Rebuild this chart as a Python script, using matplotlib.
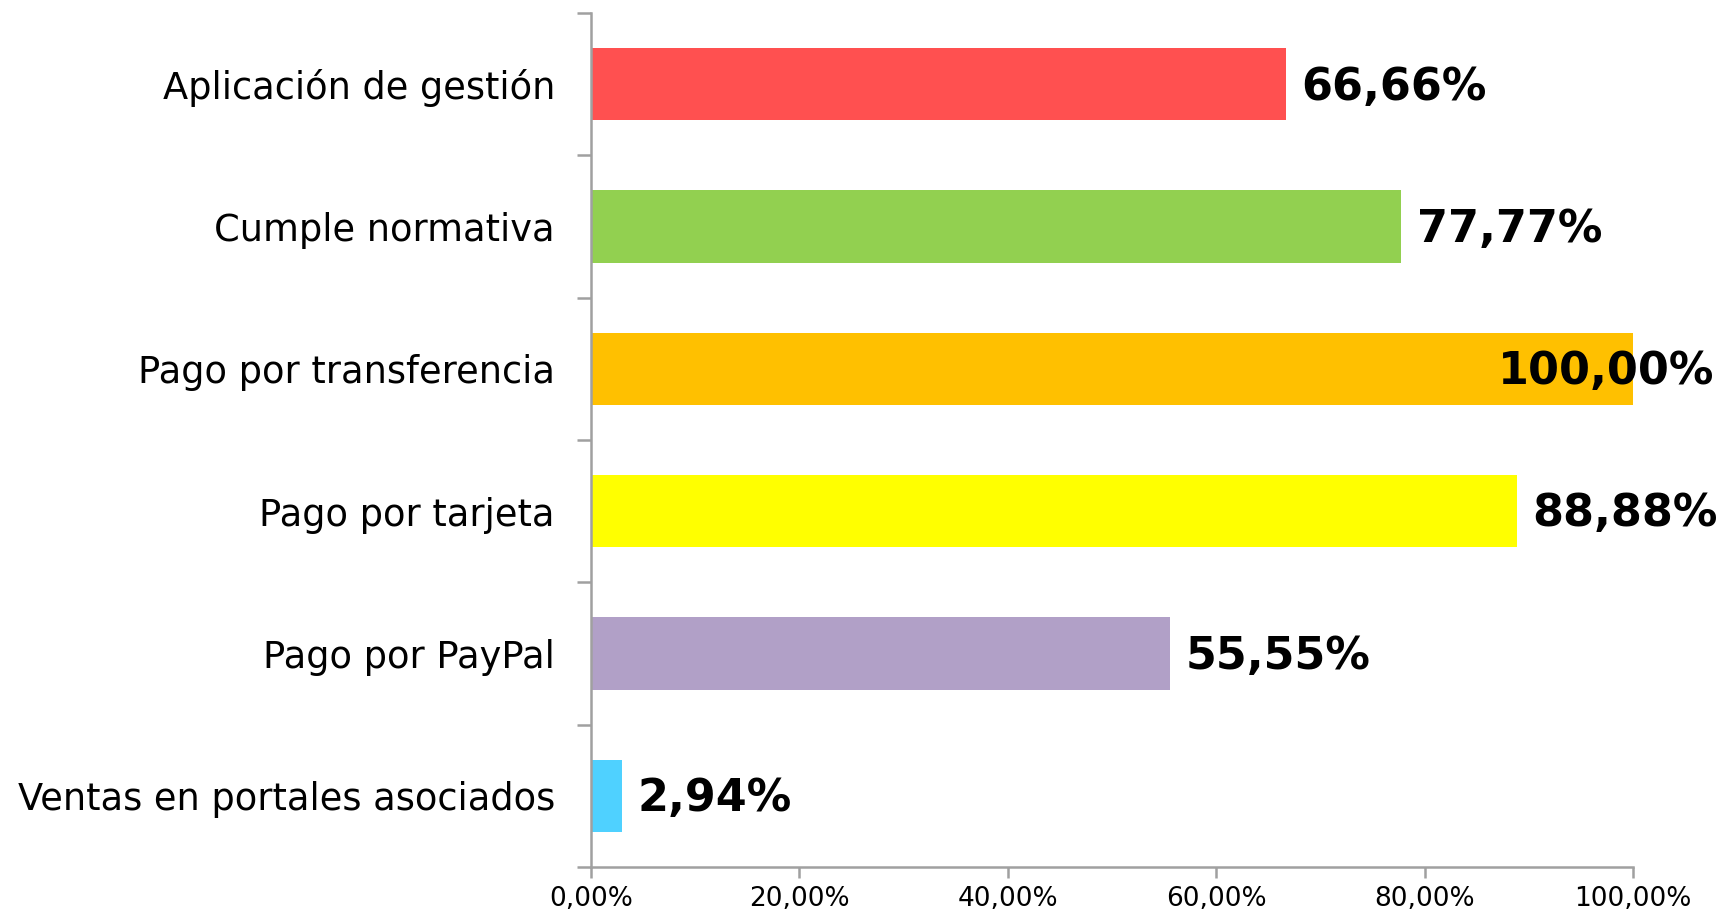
import matplotlib
matplotlib.use("Agg")
import matplotlib.pyplot as plt
from matplotlib.ticker import FixedLocator, FuncFormatter

categories = ["Aplicación de gestión", "Cumple normativa", "Pago por transferencia",
              "Pago por tarjeta", "Pago por PayPal", "Ventas en portales asociados"]
values = [66.66, 77.77, 100.00, 88.88, 55.55, 2.94]
colors = ["#FF5050", "#92D050", "#FFC000", "#FFFF00", "#B1A0C7", "#4FD1FF"]
xticks = [0, 20, 40, 60, 80, 100]

def pct(v):
    return f"{v:.2f}".replace(".", ",") + "%"

fig = plt.figure(figsize=(17.2, 9.15), dpi=100)
ax = fig.add_axes([0.3436, 0.0525, 0.6058, 0.9333])

n = len(categories)
ypos = list(range(n))
ax.barh(ypos, values, height=0.51, color=colors, edgecolor="none", zorder=2)
ax.set_ylim(n - 0.5, -0.5)
ax.set_xlim(0, 100)

ax.set_yticks(ypos)
ax.set_yticklabels(categories, fontsize=26.5, family="DejaVu Sans")
ax.yaxis.set_minor_locator(FixedLocator([i - 0.5 for i in range(n + 1)]))
ax.tick_params(axis="y", which="major", length=0, pad=26)
ax.tick_params(axis="y", which="minor", length=10, width=1.8, color="#A0A0A0")

ax.set_xticks(xticks)
ax.xaxis.set_major_formatter(FuncFormatter(lambda v, p: pct(v)))
ax.tick_params(axis="x", which="major", length=8, width=1.8, color="#A0A0A0",
               labelsize=19, pad=6)

for s in ["top", "right"]:
    ax.spines[s].set_visible(False)
for s in ["left", "bottom"]:
    ax.spines[s].set_color("#A0A0A0")
    ax.spines[s].set_linewidth(1.8)

for y, v in zip(ypos, values):
    x = v + 1.5 if v < 95 else 87.0
    ax.text(x, y + 0.02, pct(v), ha="left", va="center", fontsize=32,
            fontweight="bold", color="black", clip_on=False, zorder=3)

fig.savefig("out.png", dpi=100)
